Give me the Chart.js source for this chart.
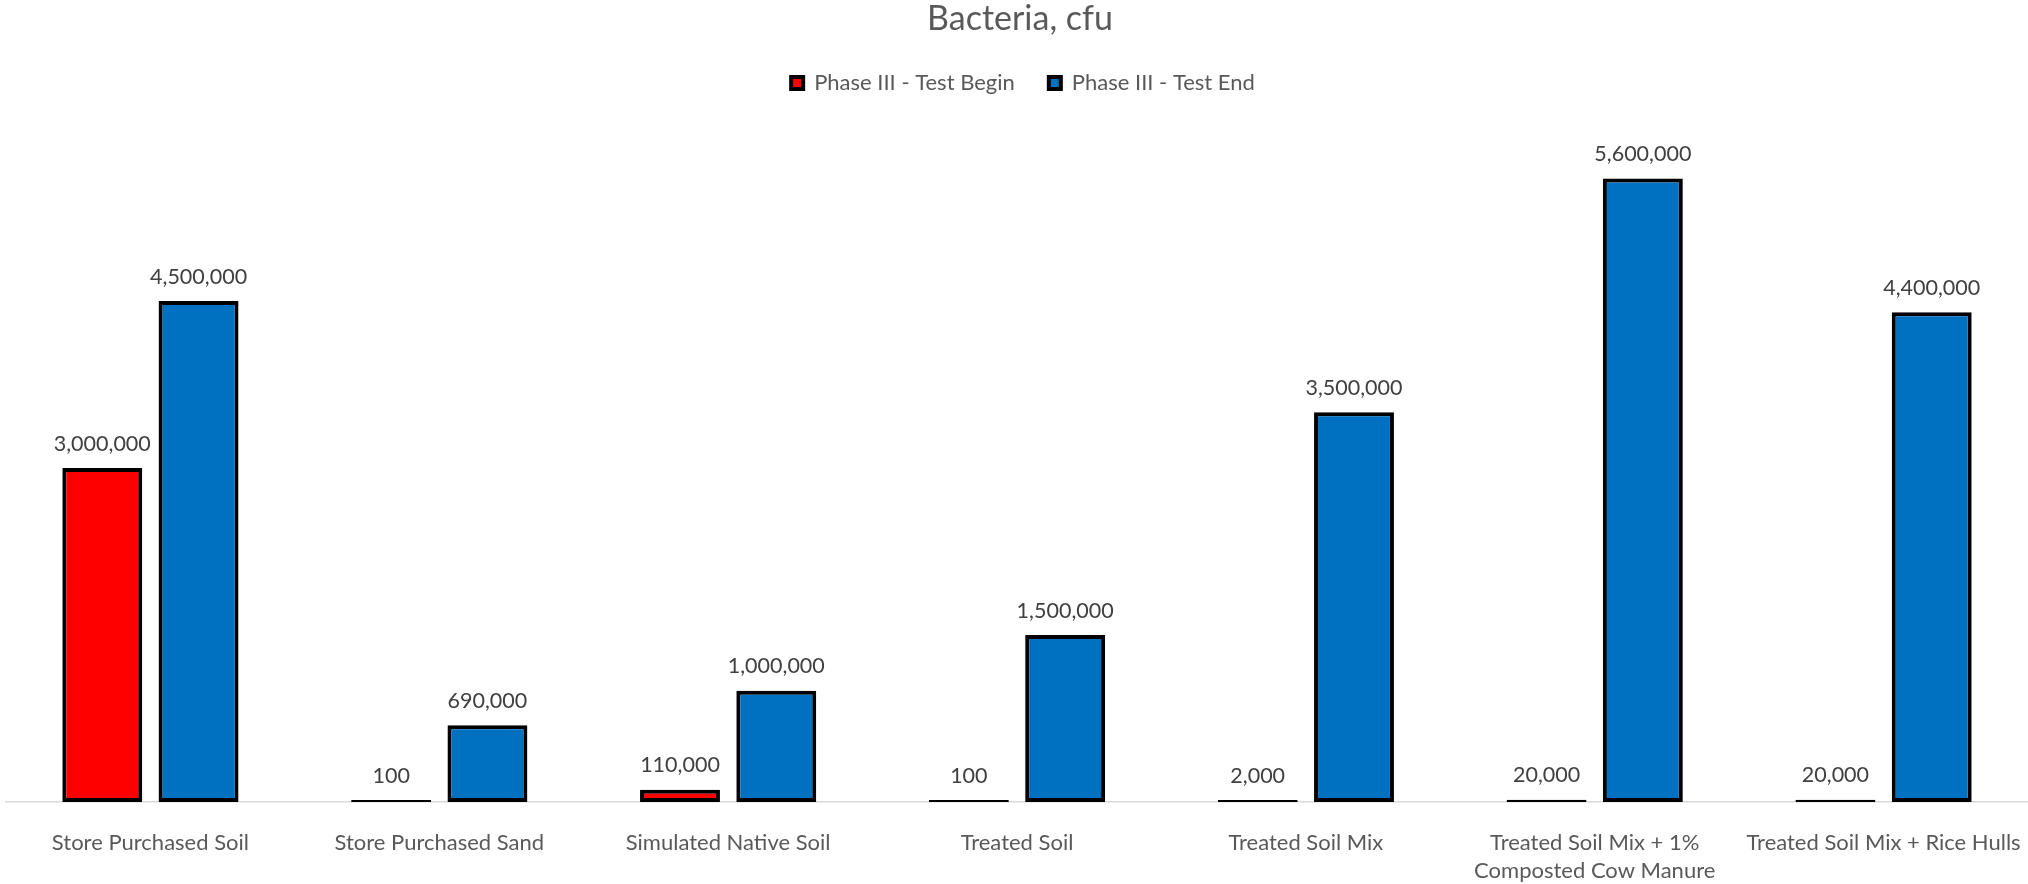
<!DOCTYPE html>
<html>
<head>
<meta charset="utf-8">
<title>Bacteria, cfu</title>
<script src="https://cdn.jsdelivr.net/npm/chart.js@4.4.1/dist/chart.umd.min.js"></script>
<style>
  html, body { margin: 0; padding: 0; background: #ffffff; overflow: hidden; }
  #wrap { width: 2028px; height: 884px; }
</style>
</head>
<body>
<div id="wrap"><canvas id="chart" width="2028" height="884"></canvas></div>
<script>
// Soil samples on the category axis (the long one wraps onto two lines)
const categories = [
  'Store Purchased Soil',
  'Store Purchased Sand',
  'Simulated Native Soil',
  'Treated Soil',
  'Treated Soil Mix',
  ['Treated Soil Mix + 1%', 'Composted Cow Manure'],
  'Treated Soil Mix + Rice Hulls'
];

const seriesNames = ['Phase III - Test Begin', 'Phase III - Test End'];

// Bacteria counts (cfu)
const testBegin = [3000000, 100, 110000, 100, 2000, 20000, 20000];
const testEnd   = [4500000, 690000, 1000000, 1500000, 3500000, 5600000, 4400000];

// Value axis range (the axis itself is hidden)
const yRange = [0, 6000000];

const numberFormat = new Intl.NumberFormat('en-US');

// Extra room below the legend, and a small nudge of the header blocks
const headerTweaks = {
  id: 'headerTweaks',
  beforeInit(chart) {
    const legend = chart.legend;
    if (!legend) return;
    const baseFit = legend.fit;
    legend.fit = function () {
      baseFit.call(this);
      this.height += 30;
    };
  },
  afterLayout(chart) {
    if (chart.legend) {
      chart.legend.left += 6;
      chart.legend.right += 6;
    }
    if (chart.titleBlock) {
      chart.titleBlock.left += 3;
      chart.titleBlock.right += 3;
    }
  }
};

// Value labels above every bar
const valueLabels = {
  id: 'valueLabels',
  afterDatasetsDraw(chart) {
    const ctx = chart.ctx;
    ctx.save();
    ctx.font = '21.5px Lato, "Open Sans", sans-serif';
    ctx.fillStyle = '#404040';
    ctx.textAlign = 'center';
    ctx.textBaseline = 'alphabetic';
    chart.data.datasets.forEach((ds, i) => {
      const meta = chart.getDatasetMeta(i);
      if (meta.hidden) return;
      meta.data.forEach((bar, j) => {
        ctx.fillText(numberFormat.format(ds.data[j]), bar.x, bar.y - 17.5);
      });
    });
    ctx.restore();
  }
};

function draw() {
  Chart.defaults.font.family = 'Lato, "Open Sans", sans-serif';
  Chart.defaults.color = '#595959';

  new Chart(document.getElementById('chart'), {
    type: 'bar',
    data: {
      labels: categories,
      datasets: [
        {
          label: seriesNames[0],
          data: testBegin,
          backgroundColor: '#FF0000',
          borderColor: '#000000',
          borderWidth: 4,
          borderSkipped: false,
          minBarLength: 2
        },
        {
          label: seriesNames[1],
          data: testEnd,
          backgroundColor: '#0070C0',
          borderColor: '#000000',
          borderWidth: 4,
          borderSkipped: false,
          minBarLength: 2
        }
      ]
    },
    options: {
      responsive: false,
      animation: false,
      devicePixelRatio: 1,
      layout: { padding: { left: 6, right: 0, top: 0, bottom: 0 } },
      datasets: {
        bar: { categoryPercentage: 0.6667, barPercentage: 0.83 }
      },
      plugins: {
        title: {
          display: true,
          text: 'Bacteria, cfu',
          color: '#595959',
          font: { size: 34, weight: 'normal', lineHeight: 0.85 },
          padding: { top: 4.1, bottom: 5 }
        },
        legend: {
          display: true,
          position: 'top',
          labels: {
            boxWidth: 12,
            boxHeight: 12,
            padding: 34,
            color: '#595959',
            font: { size: 22 }
          }
        },
        tooltip: { enabled: false }
      },
      scales: {
        x: {
          // tick marks are not drawn; their length only spaces the labels down
          grid: { display: false, drawTicks: true, tickLength: 26.7 },
          border: { display: true, color: '#d9d9d9', width: 1.5 },
          ticks: {
            color: '#595959',
            font: { size: 22, lineHeight: '28px' },
            padding: 0,
            maxRotation: 0,
            minRotation: 0,
            autoSkip: false
          },
          // the label band below the plot: two text lines plus the spacing
          afterFit(scale) {
            scale.height = 82;
          }
        },
        y: {
          display: false,
          min: yRange[0],
          max: yRange[1]
        }
      }
    },
    plugins: [headerTweaks, valueLabels]
  });
}

if (document.fonts && document.fonts.load) {
  Promise.all([
    document.fonts.load('22px Lato'),
    document.fonts.load('34px Lato')
  ]).then(draw, draw);
} else {
  draw();
}
</script>
</body>
</html>
